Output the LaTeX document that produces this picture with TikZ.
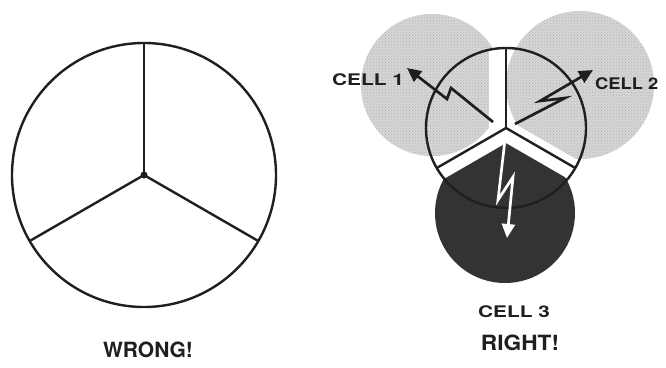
\documentclass[tikz,border=0pt]{standalone}
\usepackage{fontspec}
\setmainfont{TeX Gyre Heros}
\usetikzlibrary{arrows.meta,calc,positioning,patterns}
\definecolor{stipple}{gray}{0.84}
\definecolor{darkcell}{gray}{0.20}
\definecolor{ink}{gray}{0.12}
\tikzset{
  rim/.style={draw=ink,line width=2.4pt},
  cellfill/.style={fill=stipple,postaction={pattern=crosshatch dots,pattern color=gray!60}},
  bolt/.style={line width=2.7pt,miter limit=20,-{Triangle[length=14pt,width=13pt]}},
  celllabel/.style={font=\fontsize{16}{16}\selectfont\bfseries,text=ink,xscale=1.3,inner sep=0pt},
  verdict/.style={font=\fontsize{21}{21}\selectfont\bfseries,text=ink,inner sep=0pt}
}
\begin{document}
\begin{tikzpicture}[>=Stealth,x=1pt,y=-1pt]
  \useasboundingbox (0,0) rectangle (666,367);
  % wrong: one cell cut in three
  \coordinate (W) at (144,175);
  \draw[rim] (W) circle (132);
  \foreach \a in {270,150,30} \draw[rim] (W) -- ++(\a:132);
  \fill[ink] (W) circle (3.5);
  \node[verdict] (wrong) at (148,350) {WRONG!};
  % right: three cells meeting at one site
  \coordinate (R) at (506,128);
  \coordinate (C1) at (432,85);
  \coordinate (C2) at (580,85);
  \coordinate (C3) at (505,213);
  \path[cellfill] (C1) circle (71);
  \path[cellfill] (C2) circle (74);
  \fill[darkcell] (C3) circle (70);
  \begin{scope}
    \clip (R) circle (80);
    \fill[white] (489,40) rectangle (R);
    \fill[white] (R) -- ++(30:100) -- ++(-60:8) -- ($(R)+(-60:8)$) -- cycle;
    \fill[white] (R) -- ++(150:100) -- ++(0,15) -- ($(R)+(0,15)$)
      -- ($(R)+(30:100)+(0,15)$) -- ($(R)+(30:100)$) -- cycle;
  \end{scope}
  \draw[rim] (R) circle (80);
  \foreach \a in {270,150,30} \draw[rim] (R) -- ++(\a:80);
  % bolts
  \draw[bolt,ink] (493,122) -- (451,88) -- (447,99) -- (407,68);
  \draw[bolt,ink] (515,124) -- (565,98) -- (540,101) -- (593,70);
  \draw[bolt,white] (506,131) -- (498,200) -- (513,177) -- (507,238);
  \node[celllabel] (cellone) at (368,80) {CELL 1};
  \node[celllabel,xscale=0.88,anchor=west] (celltwo) at (595,84) {CELL 2};
  \node[celllabel] (cellthree) at (514,312) {CELL 3};
  \node[verdict,xscale=1.08] (right) at (520,343) {RIGHT!};
\end{tikzpicture}
\end{document}
